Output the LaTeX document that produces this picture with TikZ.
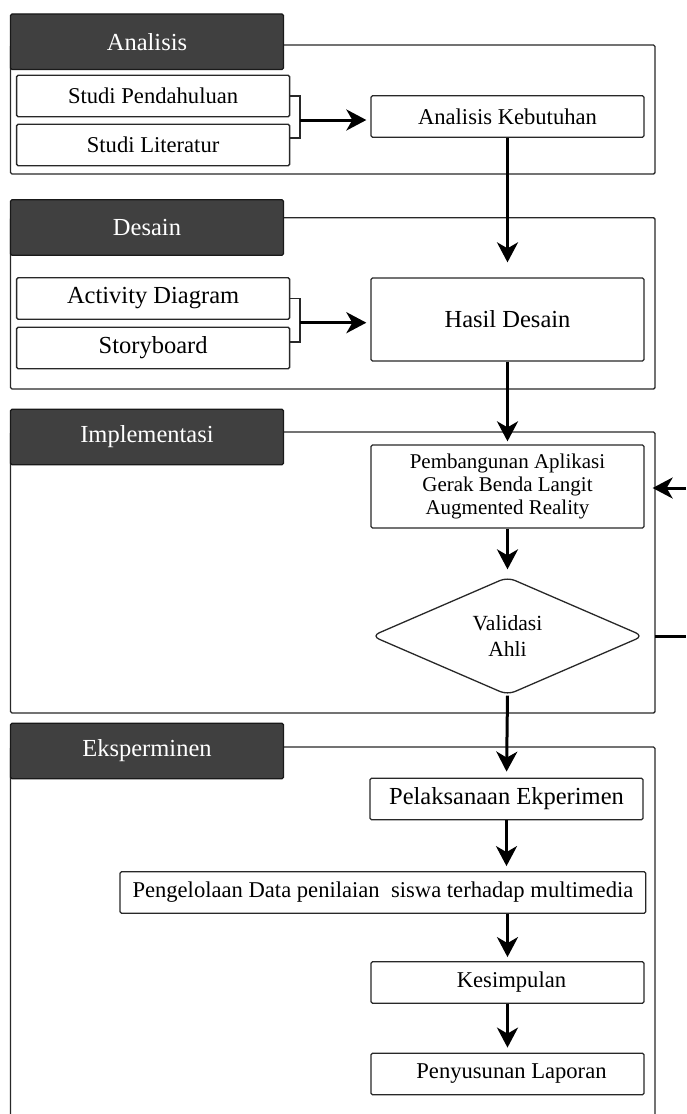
\documentclass[tikz,border=0pt]{standalone}
\usepackage{fontspec}
\setmainfont{Liberation Serif}
\usetikzlibrary{shapes.geometric,arrows.meta}
\definecolor{hdrfill}{RGB}{64,64,64}
\definecolor{linegray}{RGB}{40,40,40}
\begin{document}
\begin{tikzpicture}[x=1pt,y=-1pt,
  frame/.style={draw=linegray,line width=1.4pt,rounded corners=1.5pt},
  hdr/.style={draw=black!90,line width=1.2pt,fill=hdrfill,text=white,rounded corners=1.5pt,
    minimum width=273pt,minimum height=55.5pt,inner sep=0pt,font=\fontsize{24.5}{28}\selectfont},
  box/.style={draw=linegray,line width=1.3pt,fill=white,rounded corners=1.5pt,inner sep=0pt,
    minimum width=273pt,minimum height=41.5pt,align=center},
  fa/.style={font=\fontsize{24.5}{28}\selectfont},
  fb/.style={font=\fontsize{22.6}{26}\selectfont},
  fc/.style={font=\fontsize{21}{23}\selectfont},
  brk/.style={draw=linegray,line width=1.2pt},
  arr/.style={draw=black,line width=3pt,-{Stealth[length=20pt,width=21pt,inset=6pt]}},
  thickline/.style={draw=black,line width=3pt}
]
\useasboundingbox (0,0) rectangle (686,1114);
\fill[white] (0,0) rectangle (686,1114);

% ---------- frames ----------
\draw[frame] (10.5,45) rectangle (655,174);
\draw[frame] (10.5,217.7) rectangle (655,389);
\draw[frame] (10.5,432) rectangle (655,713);
\draw[frame] (10.5,1120) -- (10.5,747) -- (655,747) -- (655,1120);

% ---------- headers ----------
\node[hdr] (h1) at (147,41.7) {Analisis};
\node[hdr] (h2) at (147,227.5) {Desain};
\node[hdr] (h3) at (147,437) {Implementasi};
\node[hdr] (h4) at (147,751) {Eksperminen};

% ---------- Analisis ----------
\node[box,fb] (sp) at (153.1,96) {Studi Pendahuluan};
\node[box,fb] (sl) at (153.1,145) {Studi Literatur};
\node[box,fb] (ak) at (507.5,116.5) {Analisis Kebutuhan};
\coordinate (b1t) at (300,97);
\coordinate (b1b) at (300,138);
\coordinate (b1) at (300,120);
\draw[brk] (sp.east) -- (sp.east -| b1t) -- (b1b) -- (b1b -| sl.east);
\draw[arr,shorten >=4pt] (b1) -- (b1 -| ak.west);

% ---------- Desain ----------
\node[box,fa] (ad) at (153.1,298.5) {Activity Diagram};
\node[box,fa] (sb) at (153.1,348) {Storyboard};
\node[box,fa,minimum height=83pt] (hd) at (507.5,319.5) {Hasil Desain};
\coordinate (b2t) at (300,300);
\coordinate (b2b) at (300,342);
\coordinate (b2) at (300,322.7);
\draw[brk] (ad.east) -- (ad.east -| b2t) -- (b2b) -- (b2b -| sb.east);
\draw[arr,shorten >=4pt] (b2) -- (b2 -| hd.west);

% ---------- Implementasi ----------
\node[box,fc,minimum height=83pt] (pa) at (507.5,486.5)
  {Pembangunan Aplikasi\\Gerak Benda Langit\\Augmented Reality};
\node[diamond,draw=linegray,line width=1.3pt,fill=white,rounded corners=8pt,
  minimum width=272pt,minimum height=118pt,inner sep=0pt,aspect=2.3,align=center,
  font=\fontsize{21.6}{26}\selectfont] (va) at (507.5,636) {Validasi\\Ahli};

% ---------- Eksperminen ----------
\node[box,fa] (pe) at (506.5,799) {Pelaksanaan Ekperimen};
\node[box,fb,minimum width=525.7pt] (pd) at (382.9,892.5)
  {Pengelolaan Data penilaian\ \ siswa terhadap multimedia};
\node[box,fb] (ks) at (507.5,982.5) {\hspace{8pt}Kesimpulan};
\node[box,fb] (pl) at (507.5,1074) {\hspace{8pt}Penyusunan Laporan};

% ---------- vertical flow ----------
\draw[arr,shorten >=15pt] (ak.south) -- (hd.north);
\draw[arr,shorten >=3pt] (hd.south) -- (pa.north);
\draw[arr,shorten >=7pt] (pa.south) -- (va.north);
\draw[arr,shorten >=6pt] (va.south) -- (pe.north);
\draw[arr,shorten >=5pt] (pe.south) -- (pe.south |- pd.north);
\draw[arr,shorten >=4pt] (ks.north |- pd.south) -- (ks.north);
\draw[arr,shorten >=5pt] (ks.south) -- (pl.north);

% ---------- side connectors ----------
\coordinate (r1) at (686,488);
\coordinate (r2) at (686,635);
\draw[arr,shorten >=8pt] (r1) -- (r1 -| pa.east);
\draw[thickline,shorten <=11pt] (va.east) -- (va.east -| r2);
\end{tikzpicture}
\end{document}
